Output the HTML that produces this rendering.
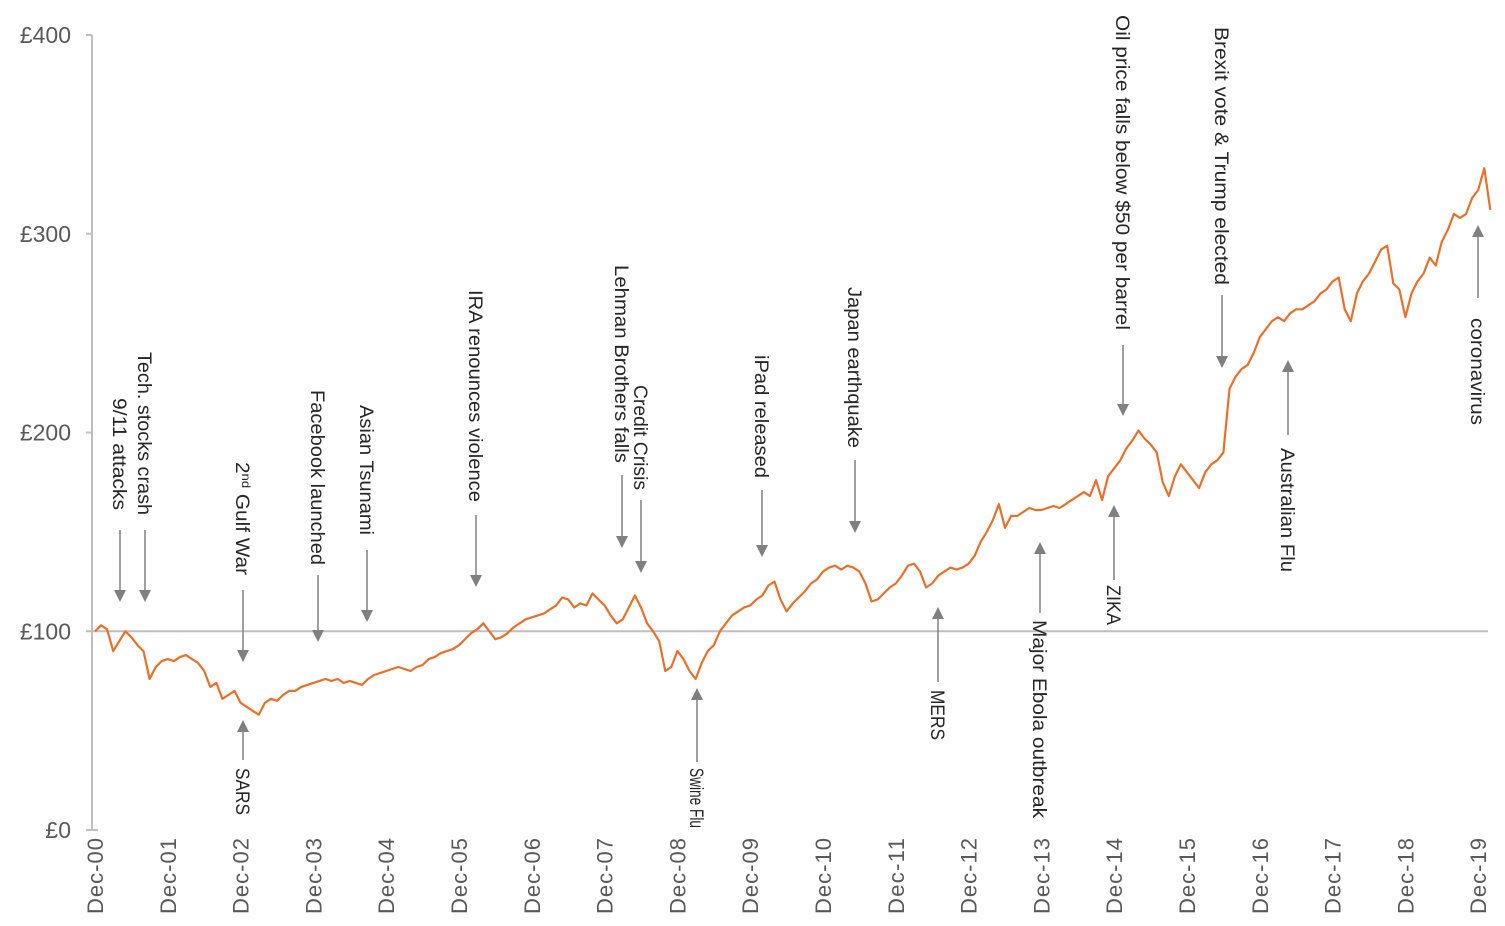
<!DOCTYPE html>
<html><head><meta charset="utf-8"><style>
html,body{margin:0;padding:0;background:#fff;}
svg{display:block;font-family:"Liberation Sans",sans-serif;}
</style></head><body>
<svg id="chart" width="1505" height="926" viewBox="0 0 1505 926">
<g id="axes"></g>
<g id="series"></g>
<g id="notes"></g>
</svg>
<script>
const yTicks = [0, 100, 200, 300, 400];
const yTickLabels = ["£0", "£100", "£200", "£300", "£400"];
const xTickLabels = ["Dec-00","Dec-01","Dec-02","Dec-03","Dec-04","Dec-05","Dec-06","Dec-07","Dec-08","Dec-09","Dec-10","Dec-11","Dec-12","Dec-13","Dec-14","Dec-15","Dec-16","Dec-17","Dec-18","Dec-19"];
// monthly values starting Dec-2000
const values = [100,
103,101,90,95,100,97,93,90,76,82,85,86,
85,87,88,86,84,80,72,74,66,68,70,64,
62,60,58,64,66,65,68,70,70,72,73,74,
75,76,75,76,74,75,74,73,76,78,79,80,
81,82,81,80,82,83,86,87,89,90,91,93,
96,99,101,104,100,96,97,99,102,104,106,107,
108,109,111,113,117,116,112,114,113,119,116,113,
108,104,106,112,118,112,104,100,95,80,82,90,
86,80,76,84,90,93,100,104,108,110,112,113,
116,118,123,125,116,110,114,117,120,124,126,130,
132,133,131,133,132,130,124,115,116,119,122,124,
128,133,134,130,122,124,128,130,132,131,132,134,
138,145,150,156,164,152,158,158,160,162,161,161,
162,163,162,164,166,168,170,168,176,166,178,182,
186,192,196,201,197,194,190,175,168,178,184,180,
176,172,180,184,186,190,222,228,232,234,240,248,
252,256,258,256,260,262,262,264,266,270,272,276,
278,262,256,270,276,280,286,292,294,275,272,258,
270,276,280,288,284,296,302,310,308,310,318,322,
333,312];
const noteLabels = ["9/11 attacks","Tech. stocks crash","2nd Gulf War","SARS","Facebook launched","Asian Tsunami","IRA renounces violence","Lehman Brothers falls","Credit Crisis","Swine Flu","iPad released","Japan earthquake","MERS","Major Ebola outbreak","ZIKA","Oil price falls below $50 per barrel","Brexit vote & Trump elected","Australian Flu","coronavirus"];
// annotation layout (pixels)
const noteX =     [120,145,243,243,318,367,476,622,641,697,762,855,938,1040,1114,1123,1222,1288,1478];
const noteTextTop=[398,352,462,768,390,405,290,265,385,768,355,287,690,620,585,15,27,448,318];
const noteTextEnd=[510,515,575,815,565,535,502,463,490,828,478,448,740,818,625,330,285,572,425];
const noteTail =  [530,530,590,760,575,550,515,475,500,762,490,460,682,613,580,345,295,435,298];
const noteTip =   [602,602,662,720,642,622,587,548,573,688,557,533,607,542,505,416,368,360,225];

const X0=95, PXY=72.8, Y0=830, PXV=1.9875;
const xScale = m => X0 + m/12*PXY;
const yScale = v => Y0 - v*PXV;
const NS="http://www.w3.org/2000/svg";
function mk(tag, attrs, parent){const e=document.createElementNS(NS,tag);for(const k in attrs)e.setAttribute(k,attrs[k]);parent.appendChild(e);return e;}
const axes=document.getElementById('axes'), series=document.getElementById('series'), notes=document.getElementById('notes');

let l=mk('line',{x1:92,y1:35,x2:92,y2:830,stroke:'#bfbfbf','stroke-width':2},axes);


l=mk('line',{x1:92,y1:830,x2:98,y2:830,stroke:'#bfbfbf','stroke-width':2},axes);


yTicks.forEach((v,i)=>{
  const y=yScale(v);
  const t=mk('line',{x1:86,y1:y,x2:92,y2:y,stroke:'#bfbfbf','stroke-width':2},axes);
  
  
  const tx=mk('text',{x:71,y:y+8,'text-anchor':'end','font-size':23,fill:'#595959'},axes);
  tx.textContent=yTickLabels[i];
  
  
});
const ref=mk('line',{x1:92,y1:yScale(100),x2:1488,y2:yScale(100),stroke:'#bfbfbf','stroke-width':2},axes);


xTickLabels.forEach((s,i)=>{
  const x=xScale(i*12);
  const tx=mk('text',{x:0,y:0,'text-anchor':'end','font-size':22,fill:'#595959',textLength:76,transform:`translate(${x+8},838) rotate(-90)`},axes);
  tx.textContent=s;
  
  
});
const pts=values.map((v,i)=>xScale(i).toFixed(1)+','+yScale(v).toFixed(1)).join(' ');
const pl=mk('polyline',{points:pts,fill:'none',stroke:'#e8702a','stroke-width':2.2,'stroke-linejoin':'round'},series);



noteLabels.forEach((s,i)=>{
  const x=noteX[i], tip=noteTip[i], tail=noteTail[i];
  const g=mk('g',{},notes);
  
  
  const d=tip>tail?1:-1;
  mk('line',{x1:x,y1:tail,x2:x,y2:tip-10*d,stroke:'#808080','stroke-width':1.5},g);
  mk('polygon',{points:`${x-6},${tip-12*d} ${x+6},${tip-12*d} ${x},${tip}`,fill:'#808080'},g);
  const len=noteTextEnd[i]-noteTextTop[i];
  const tx=mk('text',{x:0,y:0,'font-size':19,fill:'#262626',textLength:len,lengthAdjust:'spacingAndGlyphs',transform:`translate(${x-7},${noteTextTop[i]}) rotate(90)`},g);
  if(s.startsWith('2nd')){tx.innerHTML='2<tspan font-size="12" dy="-6">nd</tspan><tspan dy="6"> Gulf War</tspan>';}
  else tx.textContent=s;
});
</script>
</body></html>
